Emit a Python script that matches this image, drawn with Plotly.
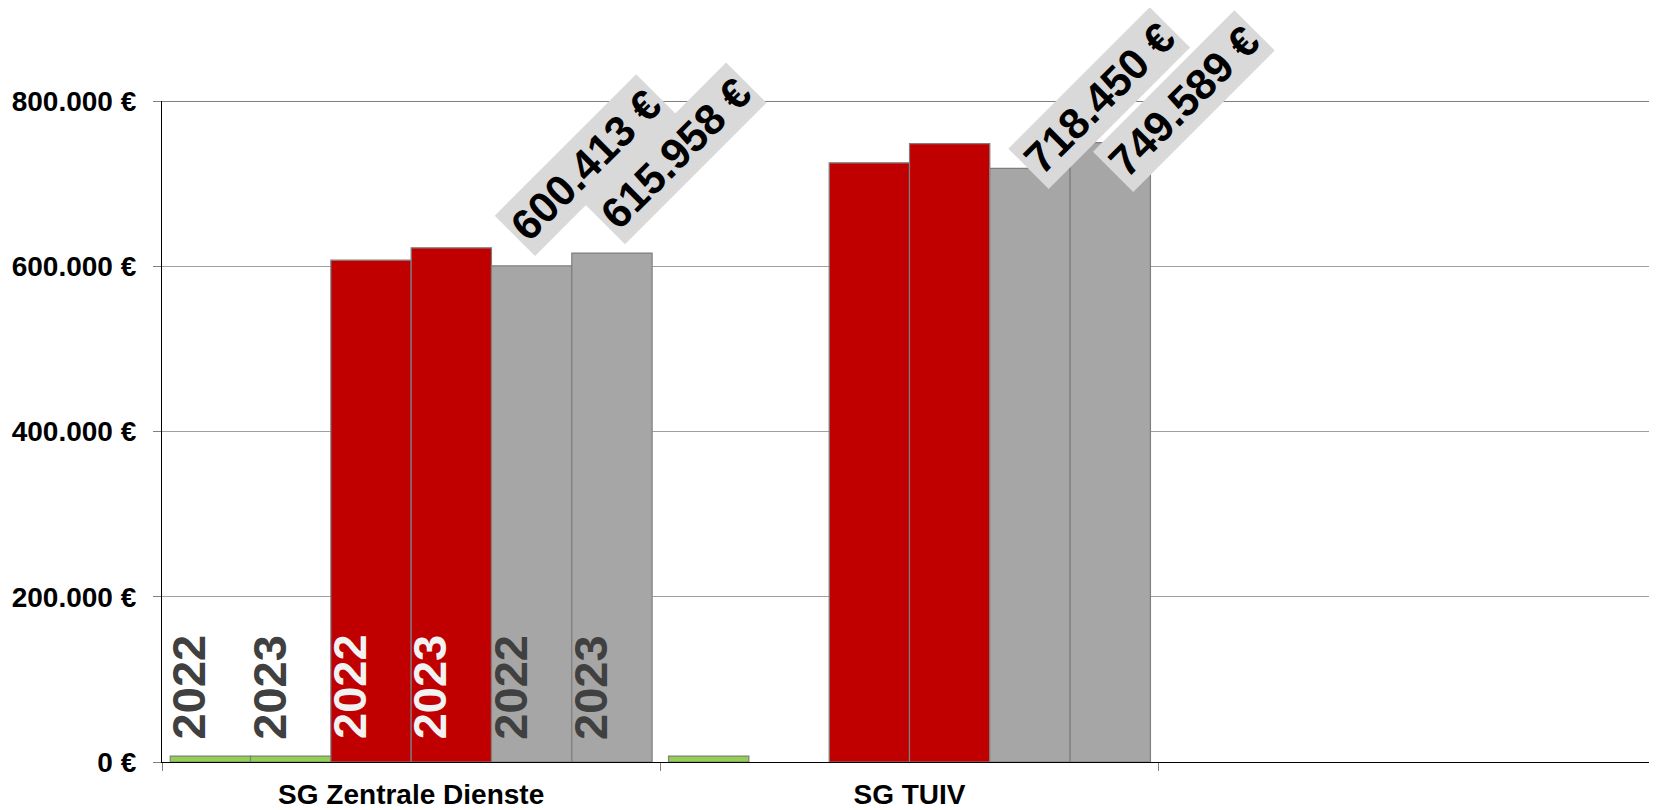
import plotly.graph_objects as go

# ---- data ----
categories = ["SG Zentrale Dienste", "SG TUIV", " "]
series_names = ["Grün 2022", "Grün 2023", "Rot 2022", "Rot 2023", "Grau 2022", "Grau 2023"]
green_2022 = [7200, 7200, None]
green_2023 = [7200, None, None]
red_2022 = [607300, 725200, None]
red_2023 = [622300, 748500, None]
gray_2022 = [600413, 718450, None]
gray_2023 = [615958, 749589, None]
year_labels = ["2022", "2023", "2022", "2023", "2022", "2023"]
tick_values = [0, 200000, 400000, 600000, 800000]
tick_labels = ["0 €", "200.000 €", "400.000 €", "600.000 €", "800.000 €"]

# ---- styles ----
colors = ["#92d050", "#92d050", "#c00000", "#c00000", "#a6a6a6", "#a6a6a6"]
year_colors = ["#404040", "#404040", "#f2f2f2", "#f2f2f2", "#404040", "#404040"]
FONT = "Liberation Sans, Arial, sans-serif"
BARGAP = 0.033
N = 6
bw = (1 - BARGAP) / N


def offset(i):
    return -(1 - BARGAP) / 2 + (i + 0.5) * bw


all_series = [green_2022, green_2023, red_2022, red_2023, gray_2022, gray_2023]

fig = go.Figure()
for name, vals, col in zip(series_names, all_series, colors):
    fig.add_trace(go.Bar(
        x=categories, y=vals, name=name,
        marker=dict(color=col, line=dict(color="#7f7f7f", width=1.2)),
        showlegend=False, hoverinfo="skip",
    ))

annotations = []
# year labels inside the first group's bars
for i, (lab, col) in enumerate(zip(year_labels, year_colors)):
    annotations.append(dict(
        x=0 + offset(i), y=0, xref="x", yref="y",
        text=lab, textangle=-90, showarrow=False,
        xanchor="center", yanchor="middle", xshift=-22, yshift=75,
        font=dict(family=FONT, size=47, color=col, weight=700),
    ))

# rotated value labels on the gray bars
label_shift_x = [[54, 64], [69.5, 73.5]]
label_shift_y = [[101, 100], [70, 42]]
for c in range(2):
    for k, vals in enumerate([gray_2022, gray_2023]):
        v = vals[c]
        txt = f"{v:,.0f}".replace(",", ".") + " €"
        annotations.append(dict(
            x=c + offset(4 + k), y=v, xref="x", yref="y",
            text=txt, textangle=-45, showarrow=False,
            xanchor="center", yanchor="middle",
            xshift=label_shift_x[c][k], yshift=label_shift_y[c][k],
            bgcolor="#d9d9d9", borderpad=4,
            font=dict(family=FONT, size=43, color="#000000", weight=700),
        ))

fig.update_layout(
    width=1649, height=802,
    margin=dict(l=154, r=0, t=93, b=48, autoexpand=False),
    paper_bgcolor="white", plot_bgcolor="white",
    barmode="group", bargap=BARGAP, bargroupgap=0,
    annotations=annotations,
    shapes=[dict(type="line", xref="paper", yref="y", x0=0, x1=1,
                 y0=800000, y1=800000, line=dict(color="#000000", width=1.2))],
)
fig.update_xaxes(
    type="category", range=[-0.5, 2.5], tickson="boundaries",
    ticks="outside", ticklen=8, tickcolor="#808080",
    showline=True, linecolor="#000000", linewidth=1.2,
    showgrid=False, automargin=False, ticklabelstandoff=7,
    tickfont=dict(family=FONT, size=28, color="#000000", weight=700),
)
fig.update_yaxes(
    range=[0, 800000], tickvals=tick_values, ticktext=tick_labels,
    ticks="outside", ticklen=8, tickcolor="#808080",
    showline=True, linecolor="#000000", linewidth=1.2,
    showgrid=True, gridcolor="#a0a0a0", gridwidth=1, zeroline=False,
    automargin=False, ticklabelstandoff=11,
    tickfont=dict(family=FONT, size=28, color="#000000", weight=700),
)

fig.write_html("out.html")
